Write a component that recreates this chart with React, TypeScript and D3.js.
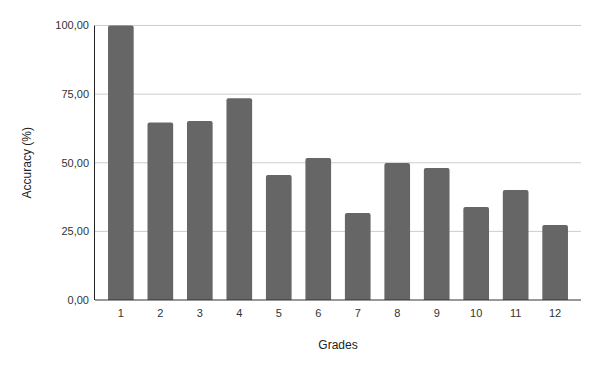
import React from "react";
import * as d3 from "d3";

const grades: string[] = ["1", "2", "3", "4", "5", "6", "7", "8", "9", "10", "11", "12"];
const accuracy: number[] = [100, 64.7, 65.2, 73.5, 45.5, 51.7, 31.7, 49.9, 48.1, 33.9, 40.1, 27.3];
const yTicks: number[] = [0, 25, 50, 75, 100];

const W = 600;
const H = 371;
const M = { left: 95, right: 19, top: 25.5, bottom: 71 };

const fmt = (v: number) => v.toFixed(2).replace(".", ",");

function topRoundedRect(x: number, y: number, w: number, h: number, r: number) {
  const rr = Math.min(r, h, w / 2);
  return `M${x},${y + h}V${y + rr}Q${x},${y} ${x + rr},${y}H${x + w - rr}Q${x + w},${y} ${x + w},${y + rr}V${y + h}Z`;
}

export default function App() {
  const x = d3
    .scaleBand<string>()
    .domain(grades)
    .range([M.left, W - M.right])
    .paddingInner(0.35)
    .paddingOuter(0.33);
  const y = d3.scaleLinear().domain([0, 100]).range([H - M.bottom, M.top]);
  const font = "Liberation Sans, Arial, sans-serif";

  return (
    <svg
      width={W}
      height={H}
      style={{ position: "absolute", left: 0, top: 0, background: "#fff" }}
      fontFamily={font}
    >
      <rect width={W} height={H} fill="#fff" />
      {yTicks.map((t) => (
        <g key={t}>
          {t > 0 && (
            <line x1={M.left} x2={W - M.right} y1={y(t)} y2={y(t)} stroke="#cccccc" strokeWidth={1} />
          )}
          <text x={89} y={y(t)} dy="0.35em" textAnchor="end" fontSize={11} fill="#333">
            {fmt(t)}
          </text>
        </g>
      ))}
      {grades.map((g, i) => (
        <path
          key={g}
          d={topRoundedRect(x(g)!, y(accuracy[i]), x.bandwidth(), y(0) - y(accuracy[i]), 2)}
          fill="#666666"
        />
      ))}
      <line x1={M.left - 0.5} x2={M.left - 0.5} y1={M.top} y2={y(0)} stroke="#222" strokeWidth={1} />
      <line x1={M.left} x2={W - M.right} y1={y(0)} y2={y(0)} stroke="#333" strokeWidth={1} />
      {grades.map((g) => (
        <text
          key={g}
          x={x(g)! + x.bandwidth() / 2}
          y={317}
          textAnchor="middle"
          fontSize={11}
          fill="#333"
        >
          {g}
        </text>
      ))}
      <text x={(M.left + W - M.right) / 2} y={349} textAnchor="middle" fontSize={12} fill="#222">
        Grades
      </text>
      <text
        transform={`translate(31,${(M.top + y(0)) / 2}) rotate(-90)`}
        textAnchor="middle"
        fontSize={12}
        fill="#222"
      >
        Accuracy (%)
      </text>
    </svg>
  );
}
